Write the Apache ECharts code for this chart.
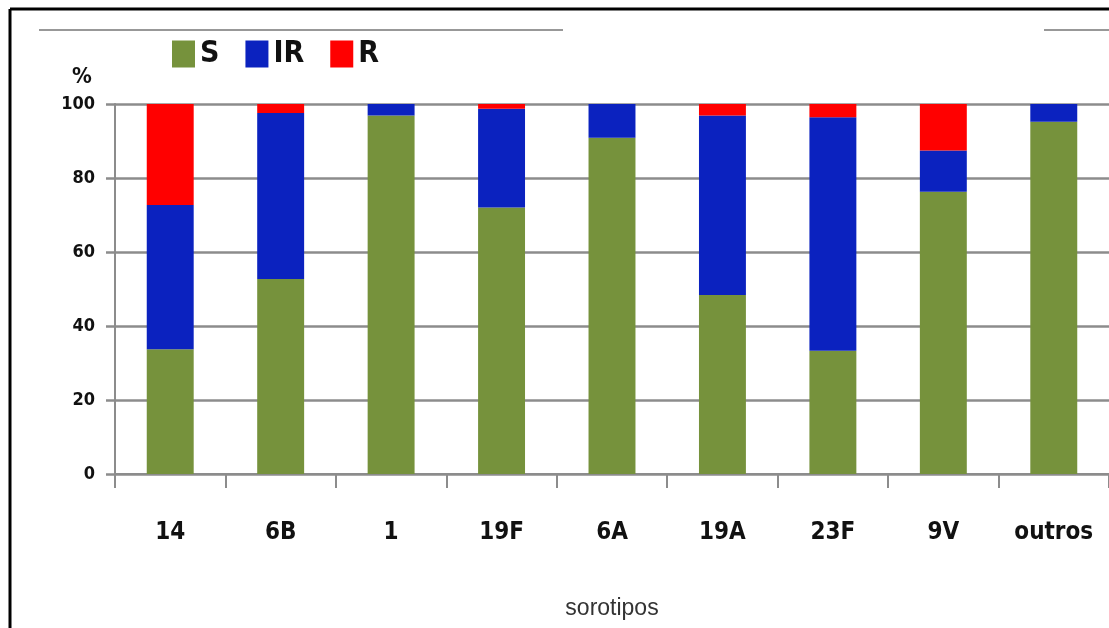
<!DOCTYPE html>
<html>
<head>
<meta charset="utf-8">
<script src="https://cdn.jsdelivr.net/npm/echarts@6/dist/echarts.min.js"></script>
<style>
  html, body { margin: 0; padding: 0; background: #fff; }
  #chart { width: 1109px; height: 628px; }
</style>
</head>
<body>
<div id="chart"></div>
<script>
// Serotype categories and resistance profile (%) per serotype
const categories = ['14', '6B', '1', '19F', '6A', '19A', '23F', '9V', 'outros'];
const sensitive = [33.7, 52.7, 96.9, 72.0, 90.9, 48.4, 33.3, 76.3, 95.2];
const intermediate = [39.0, 44.9, 3.1, 26.7, 9.1, 48.5, 63.1, 11.1, 4.8];
const resistant = [27.3, 2.4, 0, 1.3, 0, 3.1, 3.6, 12.6, 0];
const yTicks = [0, 20, 40, 60, 80, 100];

const condensedBold = '"Liberation Sans Narrow", "DejaVu Sans Condensed", "Liberation Sans", sans-serif';
const gridGray = '#8c8c8c';

const chart = echarts.init(document.getElementById('chart'));

function barSeries(name, data, color) {
  return {
    name: name,
    type: 'bar',
    stack: 'total',
    data: data,
    barWidth: '42.5%',
    itemStyle: { color: color },
    emphasis: { disabled: true }
  };
}

chart.setOption({
  animation: false,
  backgroundColor: '#fff',
  grid: { left: 115, top: 104, width: 995, bottom: 154, containLabel: false },
  legend: {
    left: 167,
    top: 34,
    itemWidth: 23,
    itemHeight: 27,
    itemGap: 26,
    icon: 'rect',
    textStyle: { fontFamily: condensedBold, fontWeight: 'bold', fontSize: 30, color: '#111' },
    data: ['S', 'IR', 'R']
  },
  xAxis: {
    type: 'category',
    data: categories,
    name: 'sorotipos',
    nameLocation: 'middle',
    nameGap: 123,
    nameTextStyle: { fontFamily: '"Liberation Sans", Arial, sans-serif', fontSize: 23, color: '#333' },
    axisLine: { lineStyle: { color: gridGray, width: 2 } },
    axisTick: { show: true, length: 14, lineStyle: { color: gridGray, width: 2 } },
    axisLabel: {
      margin: 47,
      fontFamily: condensedBold,
      fontWeight: 'bold',
      fontSize: 24,
      color: '#111'
    }
  },
  yAxis: {
    type: 'value',
    min: yTicks[0],
    max: yTicks[yTicks.length - 1],
    interval: 20,
    axisLine: { show: true, lineStyle: { color: gridGray, width: 2 } },
    axisTick: { show: true, length: 9, lineStyle: { color: gridGray, width: 2.5 } },
    splitLine: { lineStyle: { color: gridGray, width: 2.5 } },
    axisLabel: {
      margin: 20,
      fontFamily: condensedBold,
      fontWeight: 'bold',
      fontSize: 18,
      color: '#111'
    }
  },
  graphic: [
    // frame around the figure (top and left edges)
    { type: 'line', shape: { x1: 10, y1: 9, x2: 1109, y2: 9 }, style: { stroke: '#000', lineWidth: 3 } },
    { type: 'line', shape: { x1: 10, y1: 9, x2: 10, y2: 628 }, style: { stroke: '#000', lineWidth: 3 } },
    // thin rules under the top edge
    { type: 'line', shape: { x1: 39, y1: 30, x2: 563, y2: 30 }, style: { stroke: '#333', lineWidth: 1.2 } },
    { type: 'line', shape: { x1: 1044, y1: 30, x2: 1109, y2: 30 }, style: { stroke: '#333', lineWidth: 1.2 } },
    // unit label above the y axis
    {
      type: 'text', left: 72, top: 66,
      style: { text: '%', fontFamily: condensedBold, fontWeight: 'bold', fontSize: 22, fill: '#111' }
    }
  ],
  series: [
    barSeries('S', sensitive, '#76923c'),
    barSeries('IR', intermediate, '#0b22bf'),
    barSeries('R', resistant, '#ff0000')
  ]
});
</script>
</body>
</html>
